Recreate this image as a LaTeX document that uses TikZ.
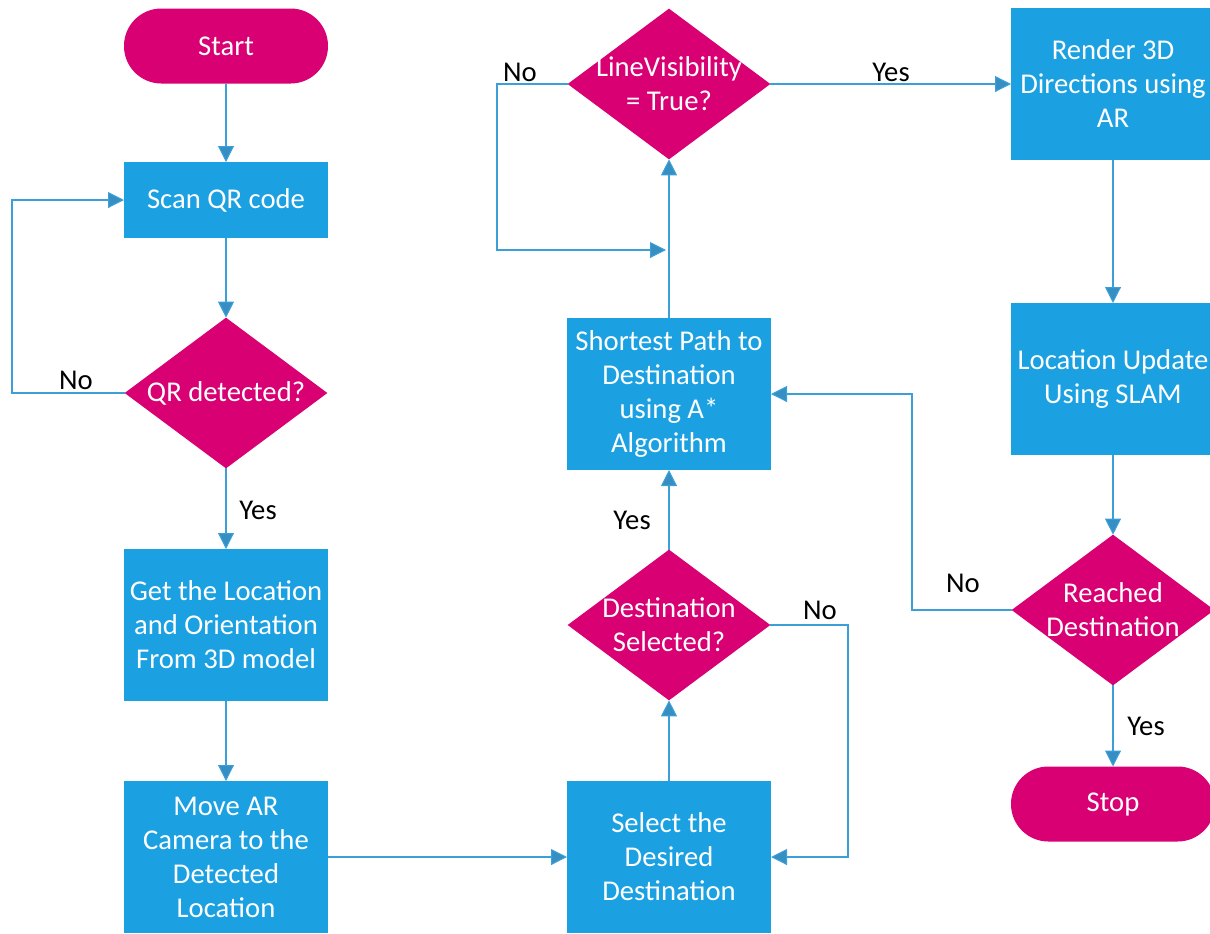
\documentclass[tikz,border=0pt]{standalone}
\usepackage{fontspec}
\setmainfont{Carlito}
\usetikzlibrary{shapes.geometric,arrows.meta}
\definecolor{boxblue}{HTML}{1BA1E2}
\definecolor{magen}{HTML}{D80073}
\definecolor{linec}{HTML}{3C9FD8}
\tikzset{
  base/.style={inner sep=0pt, outer sep=0pt, text=white, align=center,
    font=\fontsize{21.5}{25.5}\selectfont},
  proc/.style={base, rectangle, fill=boxblue, minimum width=153pt, minimum height=114pt},
  scanbox/.style={base, rectangle, fill=boxblue, minimum width=153pt, minimum height=57pt},
  term/.style={base, rectangle, rounded corners=28pt, fill=magen, minimum width=153pt, minimum height=56.25pt},
  dia/.style={diamond, fill=magen, inner sep=0pt, outer sep=0pt, minimum width=152pt, minimum height=113pt},
  diatext/.style={base},
  lab/.style={inner sep=0pt, text=black, font=\fontsize{21.5}{25.5}\selectfont},
  conn/.style={draw=linec, line width=0.8pt, -{Triangle[length=12pt,width=12pt,fill=linec!90!black]}},
  plain/.style={draw=linec, line width=0.8pt}
}
\begin{document}
\begin{tikzpicture}[x=0.75pt,y=-0.75pt]
\useasboundingbox (0,0) rectangle (1210,933);
% column 1
\node[term] (start) at (226,46) {Start};
\node[scanbox] (scan) at (226,200) {Scan QR code};
\node[dia] (qr) at (226,393) {};
\node[diatext] at (qr) {QR detected?};
\node[proc] (get) at (226,625) {Get the Location\\and Orientation\\From 3D model};
\node[proc] (move) at (226,857) {Move AR\\Camera to the\\Detected\\Location};
% column 2
\node[proc] (sel) at (669,857) {Select the\\Desired\\Destination};
\node[dia] (dsel) at (669,625) {};
\node[diatext] at (dsel) {Destination\\Selected?};
\node[proc] (sp) at (669,394) {Shortest Path to\\Destination\\using A*\\Algorithm};
\node[dia] (lv) at (669,84) {};
\node[diatext] at (lv) {LineVisibility\\= True?};
% column 3
\node[proc] (rend) at (1113,84) {Render 3D\\Directions using\\AR};
\node[proc] (loc) at (1113,379) {Location Update\\Using SLAM};
\node[dia] (reach) at (1113,610) {};
\node[diatext] at (reach) {Reached\\Destination};
\node[term] (stop) at (1113,804) {Stop};
% connectors
\draw[conn] (start) -- (scan);
\draw[conn] (scan) -- (qr.north);
\draw[conn] (qr.west) -- (12,393) -- (12,200) -- (scan.west);
\draw[conn] (qr.south) -- (get.north);
\draw[conn] (get) -- (move);
\draw[conn] (move.east) -- (sel.west);
\draw[conn] (sel.north) -- (dsel.south);
\draw[conn] (dsel.east) -- (848,625) -- (848,857) -- (sel.east);
\draw[conn] (dsel.north) -- (sp.south);
\draw[conn] (sp.north) -- (lv.south);
\coordinate (lvj) at (666,250);
\draw[conn] (lv.west) -- (497,84) -- (497,250) -- (lvj);
\draw[conn] (lv.east) -- (rend.west);
\draw[conn] (rend) -- (loc);
\draw[conn] (loc.south) -- (reach.north);
\draw[conn] (reach.west) -- (912,610) -- (912,394) -- (sp.east);
\draw[conn] (reach.south) -- (stop.north);
% labels
\node[lab] at (76,380) {No};
\node[lab] at (258,510) {Yes};
\node[lab] at (520,72) {No};
\node[lab] at (891,72) {Yes};
\node[lab] at (820,610) {No};
\node[lab] at (632,520) {Yes};
\node[lab] at (963,583) {No};
\node[lab] at (1146,726) {Yes};
\end{tikzpicture}
\end{document}
